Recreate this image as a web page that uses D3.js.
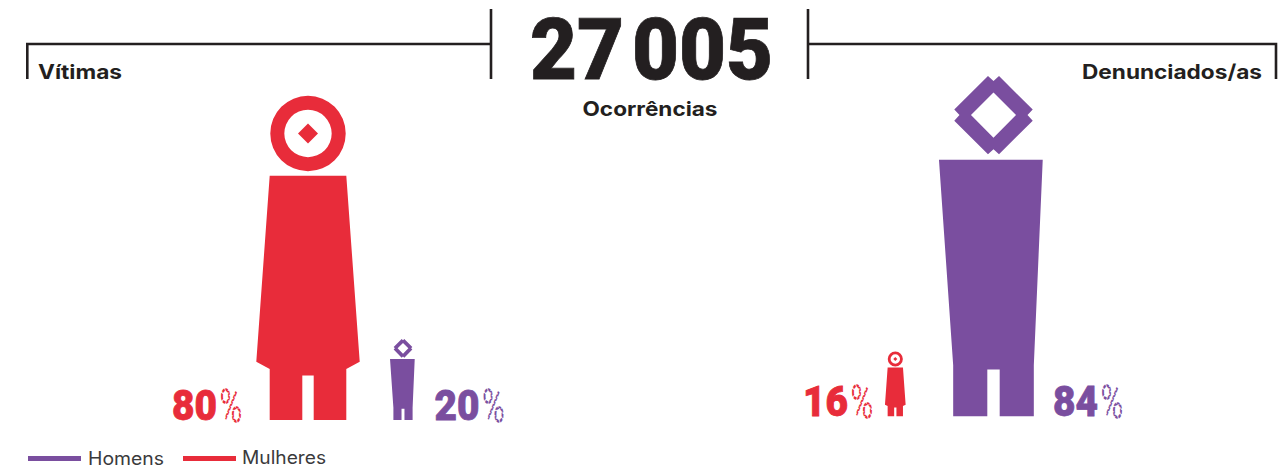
<!DOCTYPE html>
<html>
<head>
<meta charset="utf-8">
<script src="https://cdn.jsdelivr.net/npm/d3@7"></script>
<style>
  html, body { margin: 0; padding: 0; background: #fff; }
  svg { display: block; }
</style>
</head>
<body>
<div id="chart"></div>
<script>
"use strict";

const total = "27 005";
const totalLabel = "Ocorrências";
const panelTitles = ["Vítimas", "Denunciados/as"];
const genders = ["Mulheres", "Homens", "Homens", "Mulheres"];
const panels = ["Vítimas", "Vítimas", "Denunciados/as", "Denunciados/as"];
const shares = [80, 20, 84, 16];
const legendLabels = ["Homens", "Mulheres"];

const width = 1279, height = 469;
const INK = "#231f20";
const colors = d3.scaleOrdinal().domain(["Homens", "Mulheres"]).range(["#7a4e9f", "#e82c3a"]);

// Figure height is proportional to the percentage
const heightScale = d3.scaleLinear().domain([0, 100]).range([0, 405]);

// Figure centres and ground lines, one per figure
const centerX = d3.scaleOrdinal().domain([0, 1, 2, 3]).range([308, 403, 993.5, 895.3]);
const groundY = d3.scalePoint().domain(panelTitles).range([420, 416.3]);
// Where the percentage text starts
const labelX = [172, 434.5, 1053, 803];

// Pictogram outlines in figure units: x from the axis, y from the head top, height = 1
const womanBody = [[-.1182, .246], [.1182, .246], [.1596, .82], [.1182, .8426], [.1182, 1],
  [.0176, 1], [.0176, .863], [-.0176, .863], [-.0176, 1], [-.1182, 1], [-.1182, .8426], [-.1596, .82]];
const womanHead = {cy: .1157, outer: .1164, inner: .0731, dot: .0309};
const manBody = [[-.1603, .2456], [.1447, .2456], [.1185, .85], [.1185, 1],
  [.0182, 1], [.0182, .8626], [-.0182, .8626], [-.0182, 1], [-.1185, 1], [-.1185, .85]];
const manHead = {cy: .1147, a: .1153, b: .0162, notch: .1, inner: .0662};

function diamond(r, cy) {
  return [[0, cy - r], [r, cy], [0, cy + r], [-r, cy]];
}

function manHeadOutline(h) {
  const c = h.cy;
  return [[-h.b, c - h.a], [0, c - h.notch], [h.b, c - h.a], [h.a, c - h.b], [h.notch, c], [h.a, c + h.b],
    [h.b, c + h.a], [0, c + h.notch], [-h.b, c + h.a], [-h.a, c + h.b], [-h.notch, c], [-h.a, c - h.b]];
}

const svg = d3.select("#chart").append("svg")
  .attr("width", width)
  .attr("height", height);

// Header brackets
const bracket = d3.line();
[
  [[27.3, 79], [27.3, 44], [491, 44]],
  [[491, 9], [491, 79]],
  [[808, 9], [808, 79]],
  [[808, 44], [1276, 44], [1276, 79]]
].forEach(function(pts) {
  svg.append("path")
    .attr("d", bracket(pts))
    .attr("fill", "none")
    .attr("stroke", INK)
    .attr("stroke-width", 2.6);
});

svg.append("text")
  .attr("x", 530)
  .attr("y", 79)
  .attr("font-family", "Roboto")
  .attr("font-weight", 900)
  .attr("font-size", "85px")
  .attr("word-spacing", "-13px")
  .attr("textLength", 243)
  .attr("lengthAdjust", "spacingAndGlyphs")
  .attr("stroke", INK)
  .attr("stroke-width", 0.8)
  .attr("fill", INK)
  .text(total);

svg.append("text")
  .attr("x", 582.5)
  .attr("y", 116)
  .attr("font-family", "Inter")
  .attr("font-weight", 700)
  .attr("font-size", "20px")
  .attr("textLength", 135)
  .attr("lengthAdjust", "spacingAndGlyphs")
  .attr("fill", INK)
  .text(totalLabel);

svg.selectAll(".panel-title")
  .data(panelTitles)
  .join("text")
  .attr("class", "panel-title")
  .attr("x", (d, i) => i === 0 ? 38 : 1082)
  .attr("y", 79)
  .attr("font-family", "Inter")
  .attr("font-weight", 700)
  .attr("font-size", "20px")
  .attr("textLength", (d, i) => i === 0 ? 84 : 180)
  .attr("lengthAdjust", "spacingAndGlyphs")
  .attr("fill", INK)
  .text(d => d);

// Pictograms
shares.forEach(function(share, i) {
  const gender = genders[i];
  const h = heightScale(share);
  const bottom = groundY(panels[i]);
  const x = d3.scaleLinear().domain([0, 1]).range([centerX(i), centerX(i) + h]);
  const y = d3.scaleLinear().domain([0, 1]).range([bottom - h, bottom]);
  const line = d3.line().x(d => x(d[0])).y(d => y(d[1])).curve(d3.curveLinearClosed);

  const eg = svg.append("g").attr("fill", colors(gender));

  eg.append("path").attr("d", line(gender === "Homens" ? manBody : womanBody));

  if (gender === "Homens") {
    eg.append("path")
      .attr("fill-rule", "evenodd")
      .attr("d", line(manHeadOutline(manHead)) + line(diamond(manHead.inner, manHead.cy)));
  } else {
    const r = x(womanHead.outer) - x(0), inner = x(womanHead.inner) - x(0);
    eg.append("path")
      .attr("transform", "translate(" + x(0) + "," + y(womanHead.cy) + ")")
      .attr("d", d3.arc()({innerRadius: inner, outerRadius: r, startAngle: 0, endAngle: 2 * Math.PI}));
    eg.append("path").attr("d", line(diamond(womanHead.dot, womanHead.cy)));
  }

  // Percentage label: heavy digits, then a thin dashed sign
  svg.append("text")
    .attr("x", labelX[i])
    .attr("y", bottom)
    .attr("font-family", "Roboto")
    .attr("font-weight", 900)
    .attr("font-size", "42px")
    .attr("textLength", 45)
    .attr("lengthAdjust", "spacingAndGlyphs")
    .attr("stroke", colors(gender))
    .attr("stroke-width", 0.8)
    .attr("fill", colors(gender))
    .text(share);
  svg.append("text")
    .attr("x", labelX[i] + 48)
    .attr("y", bottom + 2)
    .attr("font-family", "Roboto")
    .attr("font-weight", 100)
    .attr("font-size", "46px")
    .attr("textLength", 22)
    .attr("lengthAdjust", "spacingAndGlyphs")
    .attr("fill", "none")
    .attr("stroke", colors(gender))
    .attr("stroke-width", 1.6)
    .attr("stroke-dasharray", "4 1.5")
    .text("%");
});

// Legend
legendLabels.forEach(function(name, i) {
  const x0 = i === 0 ? 28 : 183;
  svg.append("line")
    .attr("x1", x0)
    .attr("x2", x0 + 53)
    .attr("y1", 458.5)
    .attr("y2", 458.5)
    .attr("stroke", colors(name))
    .attr("stroke-width", 5);
  svg.append("text")
    .attr("x", x0 + (i === 0 ? 60 : 59))
    .attr("y", i === 0 ? 465 : 464)
    .attr("font-family", "Inter")
    .attr("font-size", "18px")
    .attr("textLength", i === 0 ? 76 : 84)
    .attr("lengthAdjust", "spacingAndGlyphs")
    .attr("fill", "#3a3a3c")
    .text(name);
});
</script>
</body>
</html>
